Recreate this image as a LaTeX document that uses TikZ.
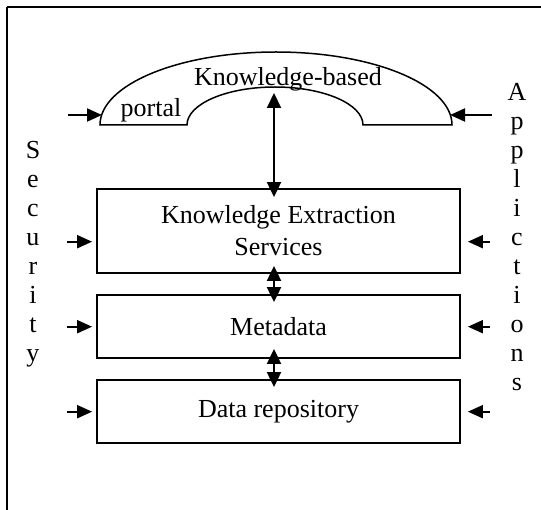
\documentclass[tikz,border=0pt]{standalone}
\usepackage{fontspec}
\setmainfont{Liberation Serif}
\usetikzlibrary{arrows.meta}
\tikzset{
  layer/.style={draw, line width=1.8pt, minimum width=363pt, align=center, inner sep=0pt},
  inarr/.style={line width=2pt, -{Triangle[length=15pt,width=13pt]}},
  bothway/.style={line width=2pt, {Triangle[length=15pt,width=14pt]}-{Triangle[length=15pt,width=14pt]}}
}

\begin{document}
\begin{tikzpicture}[x=1pt, y=-1pt, font=\fontsize{26}{32}\selectfont]
\useasboundingbox (0,0) rectangle (541,510);
% frame
\draw[line width=2.2pt] (7,510) -- (7,7);
\draw[line width=1.8pt] (7,7) -- (541,7);
% portal
\draw[line width=1.5pt] (100,125) arc[start angle=180, end angle=0, x radius=176pt, y radius=73pt] -- (363,125)
  arc[start angle=0, end angle=180, x radius=88pt, y radius=38pt] -- cycle;
\node[anchor=base] (kb) at (288,86) {Knowledge-based};
\node[anchor=base] (portal) at (151,117) {portal};
% layers
\node[layer, minimum height=84pt] (kes) at (278.5,231) {Knowledge Extraction\\Services};
\node[layer, minimum height=63pt] (meta) at (278.5,326.5) {Metadata};
\node[layer, minimum height=63pt] (repo) at (278.5,411.5) {Data repository};
% arrows
\coordinate (pin) at (274,93);
\coordinate (pl) at (102,115);
\coordinate (pr) at (450,115);
\coordinate (spl) at (68,115);
\coordinate (spr) at (492,115);
\draw[inarr] (spl) -- (pl);
\draw[inarr] (spr) -- (pr);
\draw[bothway, shorten >=-9pt] (pin) -- (kes.north -| pin);
\draw[bothway, shorten <=-8pt, shorten >=-8pt] (kes.south -| pin) -- (meta.north -| pin);
\draw[bothway, shorten <=-10pt, shorten >=-8pt] (meta.south -| pin) -- (repo.north -| pin);
\foreach \b/\y in {kes/241.7, meta/326.7, repo/411.7} {
  \coordinate (sl-\b) at (67,\y);
  \coordinate (sr-\b) at (490,\y);
  \draw[inarr, shorten >=4pt] (sl-\b) -- (sl-\b -| \b.west);
  \draw[inarr, shorten >=7pt] (sr-\b) -- (sr-\b -| \b.east);
}
% side labels
\foreach \ltr [count=\n from 0] in {S,e,c,u,r,i,t,y}
  \node[anchor=base] (sec\n) at (33,159+29*\n) {\ltr};
\foreach \ltr [count=\n from 0] in {A,p,p,l,i,c,t,i,o,n,s}
  \node[anchor=base] (app\n) at (517,101+29*\n) {\ltr};
\end{tikzpicture}
\end{document}
